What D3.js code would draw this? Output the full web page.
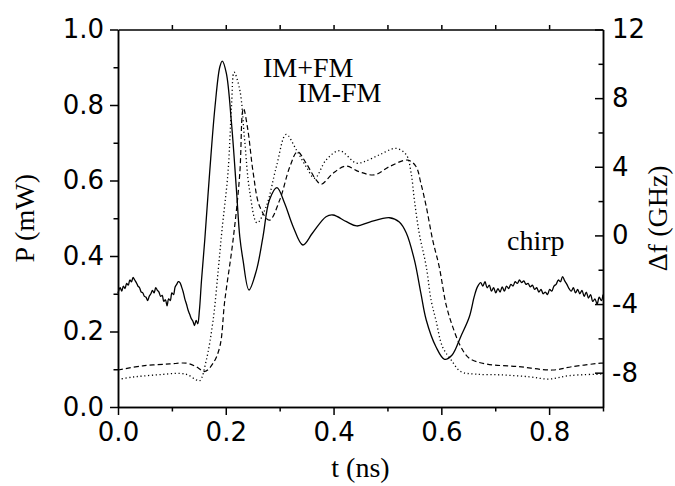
<!DOCTYPE html>
<html>
<head>
<meta charset="utf-8">
<script src="https://cdn.jsdelivr.net/npm/d3@7"></script>
<style>
  body { margin: 0; background: #fff; }
  svg { display: block; }
</style>
</head>
<body>
<div id="chart"></div>
<script>
const width = 675;
const height = 486;
const margin = { top: 29.5, right: 72, bottom: 79, left: 118 };

// chirp (solid, right axis, GHz)
const chirpT = [0.000, 0.004, 0.007, 0.010, 0.013, 0.016, 0.019, 0.022, 0.025, 0.028, 0.031, 0.034, 0.037, 0.040,
    0.043, 0.046, 0.049, 0.052, 0.055, 0.058, 0.061, 0.064, 0.067, 0.070, 0.073, 0.076, 0.079, 0.082, 0.085,
    0.088, 0.091, 0.094, 0.097, 0.100, 0.103, 0.106, 0.109, 0.112, 0.115, 0.118, 0.121, 0.124, 0.127, 0.130,
    0.133, 0.136, 0.139, 0.142, 0.145, 0.148, 0.151, 0.155, 0.161, 0.170, 0.180, 0.189, 0.1935, 0.201, 0.2106,
    0.2198, 0.226, 0.232, 0.243, 0.257, 0.269, 0.281, 0.295, 0.309, 0.325, 0.343, 0.361, 0.386, 0.399, 0.424,
    0.443, 0.467, 0.504, 0.522, 0.535, 0.550, 0.562, 0.572, 0.590, 0.606, 0.620, 0.636, 0.652, 0.661, 0.667,
    0.673, 0.677, 0.681, 0.685, 0.689, 0.693, 0.697, 0.701, 0.705, 0.709, 0.713, 0.717, 0.721, 0.725, 0.729,
    0.733, 0.737, 0.741, 0.745, 0.749, 0.753, 0.757, 0.761, 0.765, 0.769, 0.773, 0.777, 0.781, 0.785, 0.789,
    0.793, 0.797, 0.801, 0.805, 0.809, 0.813, 0.817, 0.821, 0.825, 0.829, 0.833, 0.837, 0.841, 0.845, 0.849,
    0.853, 0.857, 0.861, 0.865, 0.869, 0.873, 0.877, 0.881, 0.885, 0.889, 0.893, 0.897, 0.900];
const chirpF = [-3.36, -3.05, -3.25, -2.95, -3.10, -2.80, -2.90, -2.60, -2.70, -2.45, -2.60, -2.75, -2.95, -3.05,
    -3.30, -3.35, -3.55, -3.60, -3.80, -3.55, -3.40, -3.20, -3.35, -3.05, -3.20, -3.30, -3.55, -3.50, -3.85,
    -3.75, -4.10, -3.70, -3.80, -3.35, -3.45, -3.00, -2.85, -2.70, -2.75, -3.00, -3.30, -3.70, -4.00, -4.35,
    -4.60, -4.85, -5.00, -5.25, -4.95, -5.15, -4.40, -2.60, -0.27, 3.63, 7.50, 9.83, 10.16, 9.46, 6.55,
    2.65, -0.08, -1.44, -3.18, -2.02, -0.08, 2.06, 2.78, 1.89, 0.51, -0.56, 0.14, 1.09, 1.19, 0.80,
    0.55, 0.78, 1.03, 0.78, 0.14, -1.43, -3.36, -4.93, -6.49, -7.22, -6.97, -5.90, -4.74, -3.57, -3.00,
    -2.75, -2.95, -2.70, -3.05, -2.90, -3.25, -3.05, -3.35, -3.10, -3.30, -3.00, -3.25, -2.95, -3.10, -2.85,
    -2.95, -2.70, -2.80, -2.60, -2.75, -2.65, -2.85, -2.80, -3.00, -2.90, -3.15, -3.05, -3.30, -3.15, -3.40,
    -3.30, -3.45, -3.15, -3.25, -2.95, -2.85, -2.60, -2.70, -2.40, -2.65, -2.85, -3.10, -3.25, -3.05, -3.35,
    -3.15, -3.40, -3.20, -3.55, -3.30, -3.65, -3.45, -3.85, -3.70, -4.00, -3.60, -3.80, -3.45];

// IM+FM power (dotted, left axis, mW)
const imPlusT = [0.000, 0.025, 0.046, 0.080, 0.115, 0.130, 0.145, 0.152, 0.164, 0.1765, 0.186, 0.193, 0.204,
    0.2106, 0.2154, 0.226, 0.235, 0.244, 0.258, 0.275, 0.294, 0.312, 0.331, 0.349, 0.365, 0.386, 0.411,
    0.442, 0.457, 0.485, 0.516, 0.535, 0.544, 0.550, 0.559, 0.572, 0.581, 0.590, 0.602, 0.618, 0.636,
    0.664, 0.714, 0.763, 0.800, 0.837, 0.896, 0.900];
const imPlusP = [0.073, 0.079, 0.082, 0.086, 0.089, 0.085, 0.072, 0.070, 0.125, 0.23, 0.363, 0.469, 0.619,
    0.795, 0.887, 0.840, 0.707, 0.575, 0.488, 0.531, 0.637, 0.722, 0.681, 0.637, 0.606, 0.654, 0.679,
    0.646, 0.650, 0.668, 0.685, 0.668, 0.619, 0.548, 0.460, 0.372, 0.283, 0.230, 0.160, 0.125, 0.094,
    0.087, 0.085, 0.080, 0.074, 0.083, 0.087, 0.087];

// IM-FM power (dashed, left axis, mW)
const imMinusT = [0.000, 0.046, 0.096, 0.127, 0.145, 0.161, 0.1765, 0.189, 0.198, 0.2135, 0.226, 0.231, 0.233,
    0.241, 0.251, 0.263, 0.281, 0.300, 0.319, 0.333, 0.349, 0.368, 0.377, 0.399, 0.423, 0.448, 0.476,
    0.504, 0.538, 0.553, 0.562, 0.572, 0.584, 0.596, 0.609, 0.621, 0.636, 0.652, 0.683, 0.744, 0.806,
    0.843, 0.896, 0.900];
const imMinusP = [0.098, 0.109, 0.114, 0.116, 0.107, 0.094, 0.116, 0.160, 0.280, 0.442, 0.619, 0.782, 0.791,
    0.734, 0.619, 0.531, 0.495, 0.548, 0.637, 0.676, 0.646, 0.601, 0.590, 0.619, 0.638, 0.623, 0.615,
    0.637, 0.654, 0.637, 0.593, 0.531, 0.442, 0.372, 0.270, 0.213, 0.160, 0.129, 0.114, 0.107, 0.098,
    0.107, 0.116, 0.116];

const tTicksMajor = [0, 0.2, 0.4, 0.6, 0.8];
const tTicksMinor = [0.1, 0.3, 0.5, 0.7, 0.9];
const tTicksTop = [0.1, 0.2, 0.3, 0.4, 0.5, 0.6, 0.7, 0.8];
const pTicksMajor = [0, 0.2, 0.4, 0.6, 0.8, 1.0];
const pTicksMinor = [0.1, 0.3, 0.5, 0.7, 0.9];
const fTicksMajor = [-8, -4, 0, 4, 8, 12];
const fTicksMinor = [-6, -2, 2, 6, 10];

const labels = [
    { text: "IM+FM", t: 0.269, p: 0.874 },
    { text: "IM-FM", t: 0.333, p: 0.808 },
    { text: "chirp", t: 0.722, p: 0.416 }
];

const x = d3.scaleLinear().domain([0, 0.9]).range([margin.left, width - margin.right]);
const yP = d3.scaleLinear().domain([0, 1]).range([height - margin.bottom, margin.top]);
const yF = d3.scaleLinear().domain([-10, 12]).range([height - margin.bottom, margin.top]);

const svg = d3.select("#chart").append("svg")
    .attr("width", width)
    .attr("height", height);

const serif = "'Liberation Serif', 'Times New Roman', serif";
const sans = "'DejaVu Sans', Arial, sans-serif";

function styleAxis(g) {
    g.selectAll("path, line").attr("stroke", "#000").attr("stroke-width", 1.5);
    g.selectAll("text").attr("font-family", sans).attr("font-size", 26).attr("fill", "#000");
}

const xb = height - margin.bottom;
const xr = width - margin.right;

// bottom
svg.append("g").attr("transform", `translate(0,${xb})`)
    .call(d3.axisBottom(x).tickValues(tTicksMajor).tickSize(8).tickSizeOuter(0).tickPadding(8).tickFormat(d3.format(".1f")))
    .call(styleAxis);
svg.append("g").attr("transform", `translate(0,${xb})`)
    .call(d3.axisBottom(x).tickValues(tTicksMinor).tickSize(4.5).tickSizeOuter(0).tickFormat(""))
    .call(styleAxis);
// top
svg.append("g").attr("transform", `translate(0,${margin.top})`)
    .call(d3.axisTop(x).tickValues(tTicksTop).tickSize(4.5).tickSizeOuter(0).tickFormat(""))
    .call(styleAxis);
// left
svg.append("g").attr("transform", `translate(${margin.left},0)`)
    .call(d3.axisLeft(yP).tickValues(pTicksMajor).tickSize(8).tickSizeOuter(0).tickPadding(6).tickFormat(d3.format(".1f")))
    .call(styleAxis);
svg.append("g").attr("transform", `translate(${margin.left},0)`)
    .call(d3.axisLeft(yP).tickValues(pTicksMinor).tickSize(4.5).tickSizeOuter(0).tickFormat(""))
    .call(styleAxis);
// right, ticks pointing in
svg.append("g").attr("transform", `translate(${xr},0)`)
    .call(d3.axisRight(yF).tickValues(fTicksMajor).tickSize(-8).tickSizeOuter(0).tickPadding(9).tickFormat(d3.format("d")))
    .call(styleAxis);
svg.append("g").attr("transform", `translate(${xr},0)`)
    .call(d3.axisRight(yF).tickValues(fTicksMinor).tickSize(-4.5).tickSizeOuter(0).tickFormat(""))
    .call(styleAxis);

// minus sign as hyphen like the original
svg.selectAll(".tick text").text(function () { return this.textContent.replace("−", "-"); });

const curve = d3.curveCatmullRom.alpha(0.5);

const chirpLine = d3.line().x(d => x(d[0])).y(d => yF(d[1])).curve(curve);
const powerLine = d3.line().x(d => x(d[0])).y(d => yP(d[1])).curve(curve);

svg.append("path")
    .datum(d3.zip(imMinusT, imMinusP))
    .attr("d", powerLine)
    .attr("fill", "none")
    .attr("stroke", "#000")
    .attr("stroke-width", 1.2)
    .attr("stroke-dasharray", "5,3");

svg.append("path")
    .datum(d3.zip(imPlusT, imPlusP))
    .attr("d", powerLine)
    .attr("fill", "none")
    .attr("stroke", "#000")
    .attr("stroke-width", 1.3)
    .attr("stroke-dasharray", "1.2,2.6");

svg.append("path")
    .datum(d3.zip(chirpT, chirpF))
    .attr("d", chirpLine)
    .attr("fill", "none")
    .attr("stroke", "#000")
    .attr("stroke-width", 1.3);

svg.selectAll(".curve-label")
    .data(labels)
    .join("text")
    .attr("class", "curve-label")
    .attr("x", d => x(d.t))
    .attr("y", d => yP(d.p))
    .attr("font-family", serif)
    .attr("font-size", 28)
    .text(d => d.text);

// axis titles
svg.append("text")
    .attr("x", x(0.45))
    .attr("y", 477)
    .attr("text-anchor", "middle")
    .attr("font-family", serif)
    .attr("font-size", 28)
    .text("t (ns)");

svg.append("text")
    .attr("transform", `translate(34,${yP(0.5)}) rotate(-90)`)
    .attr("text-anchor", "middle")
    .attr("font-family", serif)
    .attr("font-size", 28)
    .text("P (mW)");

svg.append("text")
    .attr("transform", `translate(667,${yF(1)}) rotate(-90)`)
    .attr("text-anchor", "middle")
    .attr("font-family", serif)
    .attr("font-size", 28)
    .text("Δf (GHz)");
</script>
</body>
</html>
